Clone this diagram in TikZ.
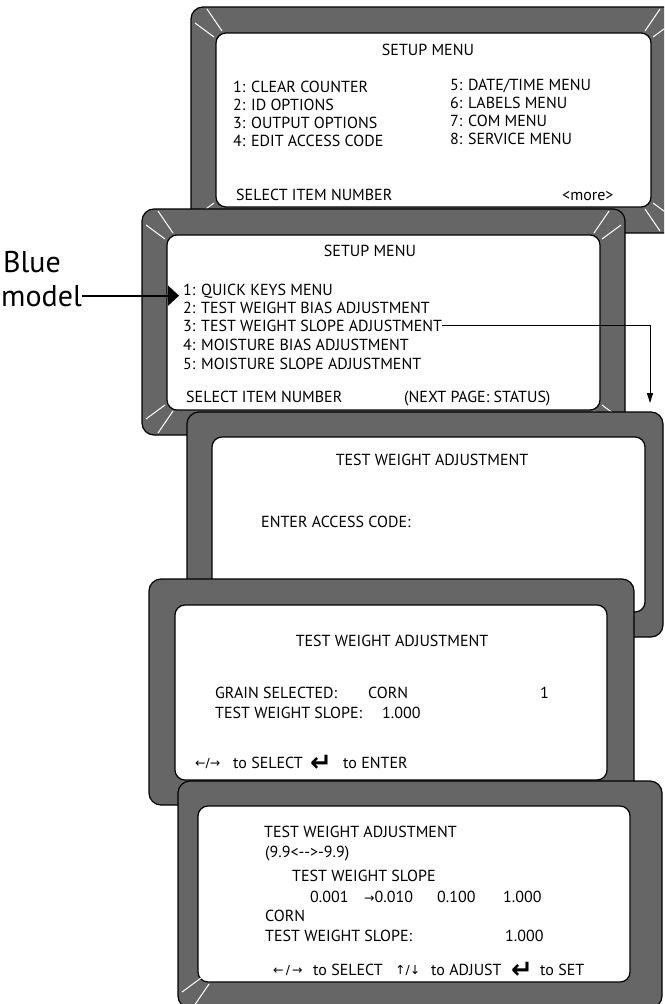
\documentclass[tikz,border=0pt]{standalone}
\usepackage{fontspec}
\setmainfont{PT Sans}
\newfontfamily\symfont{DejaVu Sans}
\usetikzlibrary{positioning,arrows.meta}

\definecolor{bezelgray}{RGB}{102,102,102}

% two white glints on one corner of a bezel
\newcommand{\glints}[3]{%
  \begin{scope}[shift={(#1,#2)},#3]
    \draw[glint] (16,2) -- (31,24);
    \draw[glint] (4,16) -- (23,30);
  \end{scope}}
\newcommand{\enterkey}{{\symfont\bfseries\fontsize{26}{26}\selectfont ↵}}
\newcommand{\keyarr}[1]{{\symfont\fontsize{12.5}{12.5}\selectfont #1}}

\begin{document}
\begin{tikzpicture}[x=1pt, y=-1pt,
  bezel/.style={draw, line width=1.2pt, fill=bezelgray, rounded corners=12pt, inner sep=0pt},
  screen/.style={draw, line width=1.2pt, fill=white, rounded corners=10pt, inner sep=0pt},
  glint/.style={white, line width=1pt},
  txt/.style={font=\fontsize{16}{19}\selectfont, anchor=base west, inner sep=0pt},
  ttl/.style={txt, anchor=base},
  big/.style={font=\fontsize{30}{36}\selectfont, anchor=base west, inner sep=0pt},
]
\useasboundingbox (0,0) rectangle (664,1004);
\clip (0,0) rectangle (664,1004);

% first setup page
\node[bezel, minimum width=485pt, minimum height=226pt] (bezel1) at (433.5,120) {};
\node[screen, minimum width=435pt, minimum height=174pt] (screen1) at (433.5,120) {};
\glints{191}{7}{}
\glints{676}{7}{xscale=-1}
\glints{191}{233}{yscale=-1}
\glints{676}{233}{xscale=-1,yscale=-1}
\node[ttl] (menu1) at (428,55) {SETUP MENU};
\node[txt] (clear)    at (233,92)  {1: CLEAR COUNTER};
\node[txt] (idopt)    at (233,110) {2: ID OPTIONS};
\node[txt] (outopt)   at (233,128) {3: OUTPUT OPTIONS};
\node[txt] (editcode) at (233,146) {4: EDIT ACCESS CODE};
\node[txt] (datetime) at (450,90)  {5: DATE/TIME MENU};
\node[txt] (labels)   at (450,108) {6: LABELS MENU};
\node[txt] (com)      at (450,126) {7: COM MENU};
\node[txt] (service)  at (450,144) {8: SERVICE MENU};
\node[txt] (select1)  at (236,200) {SELECT ITEM NUMBER};
\node[txt] (more)     at (562,200) {<more>};

% second setup page
\node[bezel, minimum width=483pt, minimum height=226pt] (bezel2) at (383.5,322) {};
\node[screen, minimum width=433pt, minimum height=175pt] (screen2) at (383.5,322.5) {};
\glints{142}{209}{}
\glints{625}{209}{xscale=-1}
\glints{142}{435}{yscale=-1}
\glints{625}{435}{xscale=-1,yscale=-1}
\node[ttl] (menu2) at (370,256) {SETUP MENU};
\node[txt] (quick)    at (183,295) {1: QUICK KEYS MENU};
\node[txt] (twbias)   at (183,313) {2: TEST WEIGHT BIAS ADJUSTMENT};
\node[txt] (twslope)  at (183,331) {3: TEST WEIGHT SLOPE ADJUSTMENT};
\node[txt] (mbias)    at (183,350) {4: MOISTURE BIAS ADJUSTMENT};
\node[txt] (mslope)   at (183,369) {5: MOISTURE SLOPE ADJUSTMENT};
\node[txt] (select2)  at (186,402) {SELECT ITEM NUMBER};
\node[txt] (nextpage) at (404,402) {(NEXT PAGE: STATUS)};

\node[big] (blue)  at (3,272) {Blue};
\node[big] (model) at (1,306) {model};
\coordinate (bluetip) at (179,0);
\draw[line width=1.8pt, -{Triangle[length=11pt,width=20pt]}] (model.east) -- (model.east -| bluetip);

\coordinate (drop) at (650,403);
\draw[line width=1pt, -{Triangle[length=10pt,width=6pt]}] (twslope.east) -| (drop);

% access code page
\node[bezel, minimum width=476pt, minimum height=225pt] (bezel3) at (425,524.5) {};
\node[screen, minimum width=433pt, minimum height=175pt] (screen3) at (428.5,524.5) {};
\node[ttl] (twadj3) at (432,465) {TEST WEIGHT ADJUSTMENT};
\node[txt] (access) at (261,527) {ENTER ACCESS CODE:};

% grain page
\node[bezel, minimum width=485pt, minimum height=226pt] (bezel4) at (391.5,692) {};
\node[screen, minimum width=432pt, minimum height=175pt] (screen4) at (391,692.5) {};
\node[ttl] (twadj4) at (392,646) {TEST WEIGHT ADJUSTMENT};
\node[txt] (grain)     at (215,698) {GRAIN SELECTED:};
\node[txt] (corn4)     at (368,698) {CORN};
\node[txt] (grainno)   at (540,698) {1};
\node[txt] (slope4)    at (215,718) {TEST WEIGHT SLOPE:};
\node[txt] (slopeval4) at (382,718) {1.000};
\node[txt] (lr4)    at (195,767) {\keyarr{←/→}};
\node[txt] (sel4)   at (233,768) {to SELECT};
\node[txt] (ent4)   at (310,771) {\enterkey};
\node[txt] (toent4) at (343,768) {to ENTER};

% slope page
\node[bezel, minimum width=484pt, minimum height=227pt] (bezel5) at (420,894.5) {};
\node[screen, minimum width=432pt, minimum height=176pt] (screen5) at (414,894) {};
\glints{178}{1008}{yscale=-1}
\node[txt] (twadj5)    at (264,837) {TEST WEIGHT ADJUSTMENT};
\node[txt] (range)     at (265,857) {(9.9<-{}->-9.9)};
\node[txt] (slopehdr)  at (292,881) {TEST WEIGHT SLOPE};
\node[txt] (step1)     at (310,902) {0.001};
\node[txt] (step2)     at (364,902) {\keyarr{→}0.010};
\node[txt] (step3)     at (437,902) {0.100};
\node[txt] (step4)     at (503,902) {1.000};
\node[txt] (corn5)     at (265,921) {CORN};
\node[txt] (slope5)    at (265,941) {TEST WEIGHT SLOPE:};
\node[txt] (slopeval5) at (505,941) {1.000};
\node[txt] (lr5)   at (273,974) {\keyarr{←\,/\,→}};
\node[txt] (sel5)  at (313,975) {to SELECT};
\node[txt] (ud5)   at (395,974) {\keyarr{↑/↓}};
\node[txt] (adj5)  at (431,975) {to ADJUST};
\node[txt] (ent5)  at (511,978) {\enterkey};
\node[txt] (toset) at (540,975) {to SET};
\end{tikzpicture}
\end{document}
